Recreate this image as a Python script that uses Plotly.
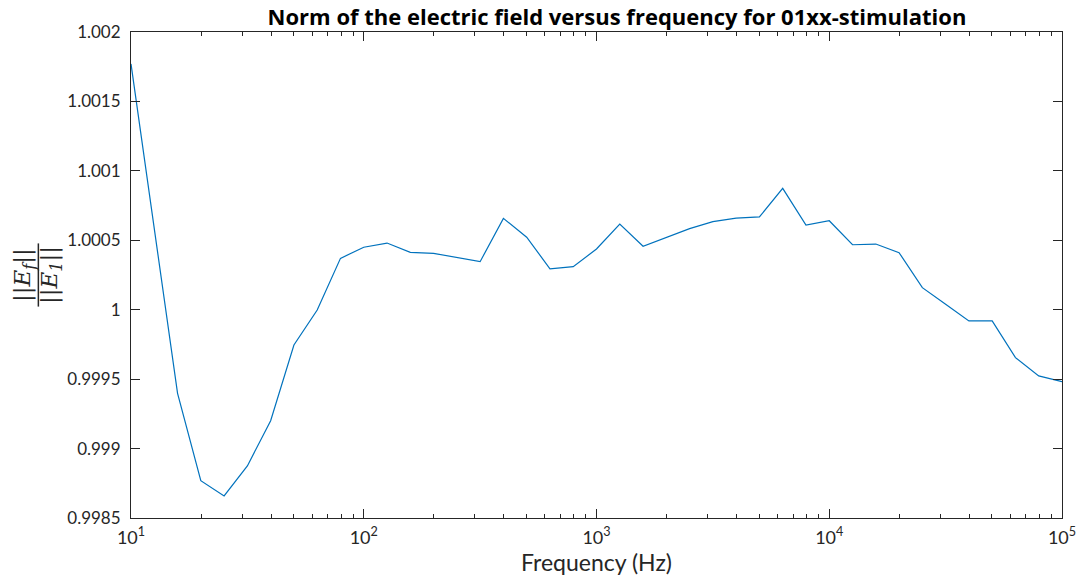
import plotly.graph_objects as go

freq = [10, 15.85, 19.95, 25.12, 31.62, 39.81, 50.12, 63.10, 79.43, 100,
        125.9, 158.5, 199.5, 251.2, 316.2, 398.1, 501.2, 631.0, 794.3, 1000,
        1259, 1585, 1995, 2512, 3162, 3981, 5012, 6310, 7943, 10000,
        12590, 15850, 19950, 25120, 31620, 39810, 50120, 63100, 79430, 100000]
norm = [1.00177, 0.999398, 0.998769, 0.998659, 0.998875, 0.999201, 0.999746, 0.999998, 1.00037, 1.00045,
        1.00048, 1.000413, 1.000406, 1.000378, 1.000346, 1.000658, 1.000522, 1.000295, 1.00031, 1.000437,
        1.000617, 1.000457, 1.000522, 1.000584, 1.000634, 1.00066, 1.000668, 1.000874, 1.00061, 1.000641,
        1.000468, 1.000473, 1.000411, 1.000159, 1.000039, 0.999919, 0.999919, 0.999655, 0.999523, 0.999482]

x_major = [10, 100, 1000, 10000, 100000]
x_major_text = ["10<sup>1</sup>", "10<sup>2</sup>", "10<sup>3</sup>", "10<sup>4</sup>", "10<sup>5</sup>"]
x_minor = [m * d for d in [10, 100, 1000, 10000] for m in range(2, 10)]
y_ticks = [0.9985, 0.999, 0.9995, 1.0, 1.0005, 1.001, 1.0015, 1.002]
y_text = ["0.9985", "0.999", "0.9995", "1", "1.0005", "1.001", "1.0015", "1.002"]

title_text = "<b>Norm of the electric field versus frequency for 01xx-stimulation</b>"
xlabel_text = "Frequency (Hz)"
ylabel_num = "<i>||E<sub>f</sub>||</i>"
ylabel_den = "<i>||E<sub>1</sub>||</i>"

axis_col = "#262626"
font_fam = "Lato, 'Open Sans', sans-serif"
serif = "'DejaVu Serif', 'Liberation Serif', serif"

fig = go.Figure()
fig.add_trace(go.Scatter(x=freq, y=norm, mode="lines",
                         line=dict(color="#0072BD", width=1.2),
                         hoverinfo="x+y", showlegend=False))

fig.update_layout(
    width=1081, height=584, autosize=False,
    margin=dict(l=131, r=19, t=32, b=66, autoexpand=False),
    paper_bgcolor="white", plot_bgcolor="white",
    font=dict(family=font_fam, color=axis_col, size=17),
    title=dict(text=title_text,
               x=0.522, xanchor="center", xref="paper", y=0.97, yanchor="middle",
               font=dict(family="'Open Sans', sans-serif", size=22, color="black")),
    xaxis=dict(type="log", range=[1, 5], showgrid=False, zeroline=False, automargin=False,
               showline=True, linecolor=axis_col, linewidth=1, mirror="ticks",
               ticks="inside", ticklen=9, tickcolor=axis_col,
               tickvals=x_major, ticktext=x_major_text, ticklabelstandoff=3,
               tickfont=dict(size=18, color=axis_col),
               minor=dict(ticks="inside", ticklen=4, tickvals=x_minor, tickcolor=axis_col),
               title=dict(text=xlabel_text, font=dict(size=23, color=axis_col), standoff=8)),
    yaxis=dict(range=[0.9985, 1.002], showgrid=False, zeroline=False, automargin=False,
               showline=True, linecolor=axis_col, linewidth=1, mirror="ticks",
               ticks="inside", ticklen=9, tickcolor=axis_col,
               tickvals=y_ticks, ticktext=y_text, ticklabelstandoff=6,
               tickfont=dict(size=17, color=axis_col)),
)

fig.add_annotation(x=-0.1149, y=0.5, xref="paper", yref="paper", text=ylabel_num,
                   textangle=-90, showarrow=False, xanchor="center", yanchor="middle",
                   font=dict(family=serif, size=23, color=axis_col))
fig.add_annotation(x=-0.0859, y=0.5, xref="paper", yref="paper", text=ylabel_den,
                   textangle=-90, showarrow=False, xanchor="center", yanchor="middle",
                   font=dict(family=serif, size=23, color=axis_col))
fig.add_shape(type="line", xref="paper", yref="paper", x0=-0.0995, x1=-0.0995, y0=0.435, y1=0.565,
              line=dict(color=axis_col, width=1.5))

fig.write_html("out.html")
